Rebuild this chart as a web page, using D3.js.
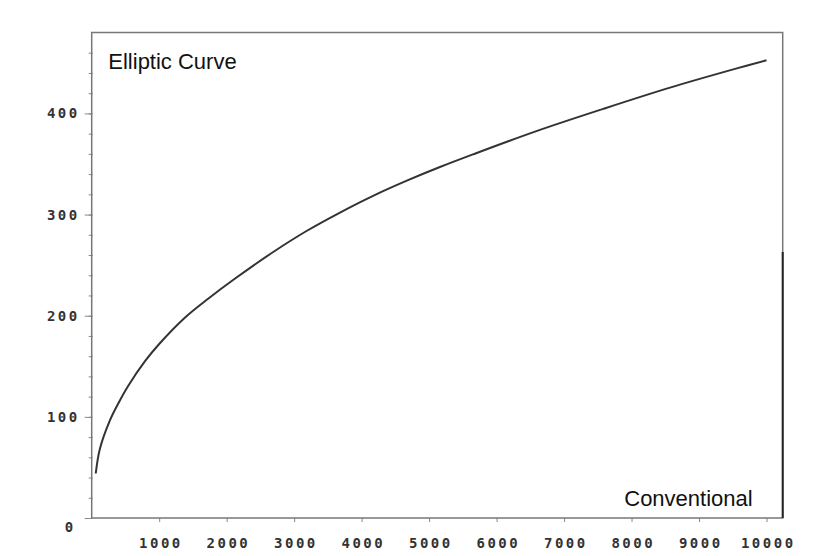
<!DOCTYPE html>
<html>
<head>
<meta charset="utf-8">
<script src="https://cdn.jsdelivr.net/npm/d3@7"></script>
<style>
  body { margin: 0; background: white; }
  .tick text { font-family: "DejaVu Sans Mono", monospace; font-size: 14px; fill: #333; letter-spacing: 2.5px; font-weight: bold; }
  .label { font-family: "Liberation Sans", Arial, sans-serif; font-size: 22px; fill: #111; }
</style>
</head>
<body>
<div id="chart"></div>
<script>
var svgWidth = 834;
var svgHeight = 556;

// curve: conventional key size vs elliptic curve size
var conventionalBits = [60, 120, 270, 400, 540, 790, 1000, 1380, 1730, 2120, 2690, 3190, 3680, 4170, 4670, 5160, 5650, 6590, 7580, 8570, 9560, 10000];
var ellipticBits = [44, 68, 96.5, 114, 130.5, 155, 172, 198, 217, 236.5, 263, 284, 302, 318.5, 333.5, 347, 359.5, 382.5, 404.5, 425.5, 444.5, 452.5];

var xTicks = [1000, 2000, 3000, 4000, 5000, 6000, 7000, 8000, 9000, 10000];
var yTicks = [0, 100, 200, 300, 400];
var yMinorTicks = d3.range(20, 480, 20);

var xDomain = [0, 10240];
var yDomain = [0, 480];
// dark part of the right edge goes up to this value
var rightEdgeTop = 263;

var plot = { left: 91.7, right: 782.7, top: 32.5, bottom: 518 };

var svg = d3.select("#chart")
  .append("svg")
  .attr("width", svgWidth)
  .attr("height", svgHeight)
  .style("background-color", "white");

var x = d3.scaleLinear().domain(xDomain).range([plot.left, plot.right]);
var y = d3.scaleLinear().domain(yDomain).range([plot.bottom, plot.top]);

// minor ticks on the left
svg.append("g")
  .attr("transform", `translate(${plot.left},0)`)
  .call(d3.axisLeft(y).tickValues(yMinorTicks).tickSize(3).tickFormat(""))
  .call(g => g.select(".domain").remove())
  .call(g => g.selectAll("line").attr("stroke", "#888").attr("x2", -3).attr("x1", 1));

// major ticks + labels on the left
var yAxis = svg.append("g")
  .attr("transform", `translate(${plot.left},0)`)
  .call(d3.axisLeft(y).tickValues(yTicks).tickSize(7).tickPadding(5).tickFormat(d3.format("d")))
  .call(g => g.select(".domain").remove())
  .call(g => g.selectAll("line").attr("stroke", "#888"));

// the zero label sits a bit lower and left in the original
yAxis.selectAll(".tick text")
  .filter(d => d === 0)
  .attr("dy", "0.95em")
  .attr("x", -16);

// bottom axis
svg.append("g")
  .attr("transform", `translate(0,${plot.bottom})`)
  .call(d3.axisBottom(x).tickValues(xTicks).tickSize(4).tickPadding(16).tickFormat(d3.format("d")))
  .call(g => g.select(".domain").remove())
  .call(g => g.selectAll("line").attr("stroke", "#888"))
  .call(g => g.selectAll("text").attr("dx", "1.25px"));

// frame
svg.append("rect")
  .attr("x", plot.left)
  .attr("y", plot.top)
  .attr("width", plot.right - plot.left)
  .attr("height", plot.bottom - plot.top)
  .attr("fill", "none")
  .attr("stroke", "#777")
  .attr("stroke-width", 1.5);

// darker part of the right edge
svg.append("line")
  .attr("x1", plot.right)
  .attr("x2", plot.right)
  .attr("y1", y(0))
  .attr("y2", y(rightEdgeTop))
  .attr("stroke", "#222")
  .attr("stroke-width", 2);

// the curve
var points = conventionalBits.map((d, i) => [d, ellipticBits[i]]);
var line = d3.line()
  .x(d => x(d[0]))
  .y(d => y(d[1]))
  .curve(d3.curveCatmullRom.alpha(0.5));

svg.append("path")
  .datum(points)
  .attr("d", line)
  .attr("fill", "none")
  .attr("stroke", "#333")
  .attr("stroke-width", 2);

// corner labels
svg.append("text")
  .attr("class", "label")
  .attr("x", 108.3)
  .attr("y", 69.3)
  .text("Elliptic Curve");

svg.append("text")
  .attr("class", "label")
  .attr("x", 752.7)
  .attr("y", 506)
  .attr("text-anchor", "end")
  .text("Conventional");
</script>
</body>
</html>
